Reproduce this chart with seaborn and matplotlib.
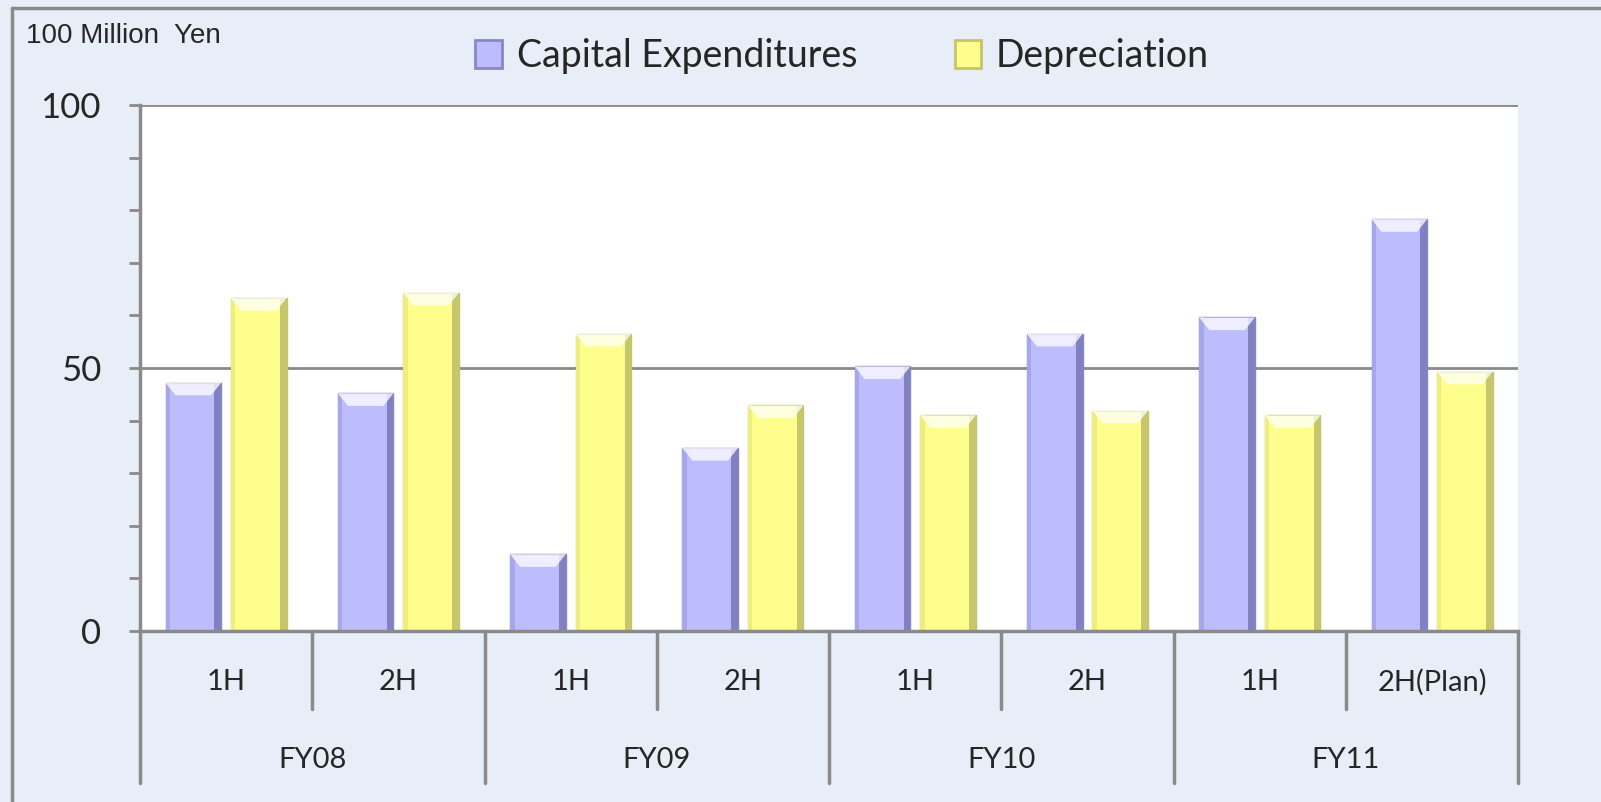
import pandas as pd
import matplotlib.pyplot as plt
import seaborn as sns
from matplotlib.patches import Rectangle, Polygon
from matplotlib.lines import Line2D
from matplotlib.transforms import blended_transform_factory

# Values in 100 million yen
years = ['FY08', 'FY09', 'FY10', 'FY11']
halves = ['1H', '2H', '1H', '2H', '1H', '2H', '1H', '2H(Plan)']
capex = [47.2, 45.2, 14.6, 34.8, 50.3, 56.5, 59.6, 78.3]
depreciation = [63.3, 64.3, 56.5, 42.9, 41.0, 41.9, 41.0, 49.3]
series_names = ['Capital Expenditures', 'Depreciation']

bg = '#E8EEF7'
line_grey = '#8A8A8A'
fill_colors = {'Capital Expenditures': '#BDBDFD', 'Depreciation': '#FEFE8C'}
edge_colors = {'Capital Expenditures': '#8787C8', 'Depreciation': '#C4C46A'}
side_colors = {'Capital Expenditures': ('#A6A6EA', '#8181C2'),
               'Depreciation': ('#EDED80', '#C6C66C')}

# long-form table for seaborn
slots = [f'{y} {h}' for y in years for h in ('a', 'b')]
df = pd.DataFrame({
    'slot': slots * 2,
    'series': [series_names[0]] * 8 + [series_names[1]] * 8,
    'value': capex + depreciation,
})

sns.set_style('white')
plt.rcParams['font.family'] = ['Lato', 'DejaVu Sans']

fig = plt.figure(figsize=(16.01, 8.02), dpi=100, facecolor=bg)
ax = fig.add_axes([0.0874, 0.2132, 0.8609, 0.6559])
ax.set_facecolor('white')

sns.barplot(data=df, x='slot', y='value', hue='series', order=slots,
            hue_order=series_names, palette=fill_colors, width=0.76, gap=0.15,
            saturation=1, ax=ax, legend=False)

# bevel look: darker side strips and a white highlight on top of each bar
for i, cont in enumerate(ax.containers):
    name = series_names[i]
    left_c, right_c = side_colors[name]
    for p in cont.patches:
        p.set_edgecolor(edge_colors[name])
        p.set_linewidth(1)
        p.set_zorder(3)
        x0, w, h = p.get_x(), p.get_width(), p.get_height()
        ax.add_patch(Rectangle((x0, 0), w * 0.08, h, color=left_c, lw=0, zorder=3.1))
        ax.add_patch(Rectangle((x0 + w * 0.88, 0), w * 0.12, h, color=right_c,
                               lw=0, zorder=3.1))
        hl = min(2.4, h * 0.3)
        ax.add_patch(Polygon([(x0, h), (x0 + w, h), (x0 + w * 0.82, h - hl),
                              (x0 + w * 0.18, h - hl)], closed=True,
                             facecolor='white', alpha=0.75, lw=0, zorder=3.2))

ax.set_xlim(-0.5, len(slots) - 0.5)
ax.set_ylim(0, 100)
ax.set_xlabel('')
ax.set_ylabel('')

# y axis: ticks every 10, labels at 0/50/100
ax.set_yticks(range(0, 101, 10))
ax.set_yticklabels([str(v) if v % 50 == 0 else '' for v in range(0, 101, 10)],
                   fontsize=25)
ax.tick_params(axis='y', direction='out', length=8, width=2, color=line_grey,
               pad=20, left=True)
ax.set_xticks([])
for v in (50, 100):
    ax.axhline(v, color=line_grey, lw=2, zorder=1)

for side in ('top', 'right'):
    ax.spines[side].set_visible(False)
for side in ('left', 'bottom'):
    ax.spines[side].set_color(line_grey)
    ax.spines[side].set_linewidth(2.5)
    ax.spines[side].set_zorder(4)

# two-level category axis below the plot
trans = blended_transform_factory(ax.transData, ax.transAxes)
for k in range(len(slots) + 1):
    x = k - 0.5
    bottom = -0.289 if k % 2 == 0 else -0.148
    ax.plot([x, x], [0, bottom], color=line_grey, lw=2.5, transform=trans,
            clip_on=False)
for k, h in enumerate(halves):
    ax.text(k, -0.097, h, transform=trans, ha='center', va='center',
            fontsize=21)
for k, y in enumerate(years):
    ax.text(2 * k + 0.5, -0.245, y, transform=trans, ha='center', va='center',
            fontsize=21)

# unit label
fig.text(0.016, 0.955, '100 Million  Yen', fontsize=20, ha='left', va='center',
         family=['Liberation Sans Narrow', 'Liberation Sans'])

# legend
handles = [Rectangle((0, 0), 1, 1, facecolor=fill_colors[s],
                     edgecolor=edge_colors[s], lw=2) for s in series_names]
fig.legend(handles, series_names, loc='center', bbox_to_anchor=(0.526, 0.93),
           ncol=2, frameon=False, fontsize=27, handlelength=0.7,
           handleheight=0.8, handletextpad=0.4, columnspacing=2.6)

# outer frame: only the left and top edges fall inside the picture
fig.add_artist(Line2D([12 / 1601, 12 / 1601], [0, 1 - 8 / 802],
                      transform=fig.transFigure, color=line_grey, lw=2.5))
fig.add_artist(Line2D([12 / 1601, 1], [1 - 8 / 802, 1 - 8 / 802],
                      transform=fig.transFigure, color=line_grey, lw=2.5))

fig.savefig('out.png', dpi=100, facecolor=bg)
